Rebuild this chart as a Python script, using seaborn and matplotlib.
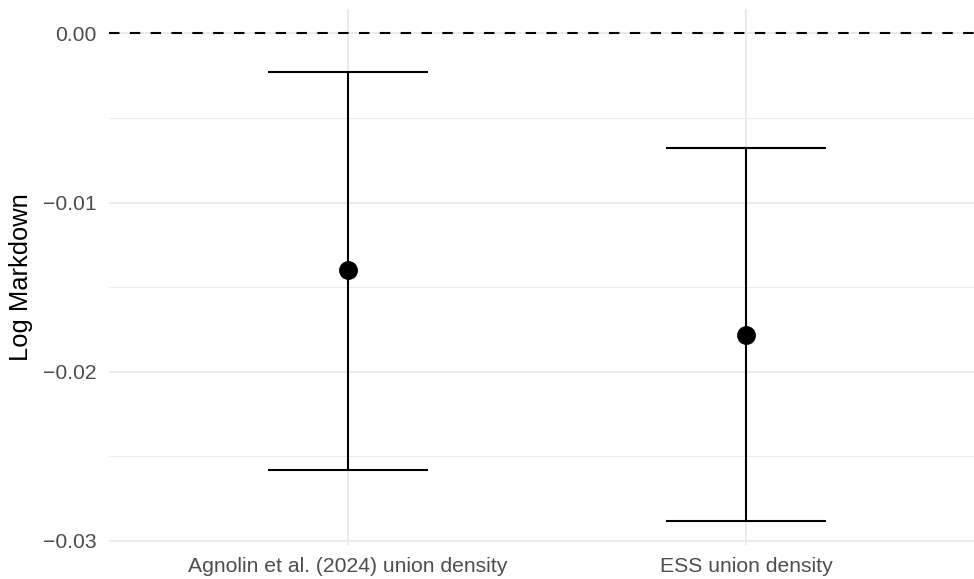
import numpy as np
import pandas as pd
import matplotlib
matplotlib.use("Agg")
import matplotlib.pyplot as plt
import seaborn as sns

# Estimates of log markdown with 95% confidence bounds, by union density source
categories = ["Agnolin et al. (2024) union density", "ESS union density"]
estimate = [-0.0140, -0.0178]
ci_low = [-0.0258, -0.0288]
ci_high = [-0.0023, -0.0068]
y_ticks = [0.00, -0.01, -0.02, -0.03]
y_minor = [-0.005, -0.015, -0.025]

df = pd.DataFrame({"measure": categories, "est": estimate,
                   "lo": ci_low, "hi": ci_high})
df["pos"] = np.arange(len(df))

sns.set_theme(style="white")
plt.rcParams["font.family"] = ["Liberation Sans", "DejaVu Sans"]

fig = plt.figure(figsize=(9.74, 5.79), dpi=100)
W, H = 974, 579
ax = fig.add_axes([109 / W, (H - 545) / H, (985 - 109) / W, (545 - 9) / H])

grid_col = "#EBEBEB"
for y in y_ticks:
    ax.axhline(y, color=grid_col, lw=1.4, zorder=0)
for y in y_minor:
    ax.axhline(y, color=grid_col, lw=0.8, zorder=0)
for x in df["pos"]:
    ax.axvline(x, color=grid_col, lw=1.4, zorder=0)

ax.axhline(0, color="black", lw=1.5, ls=(0, (5, 5)), zorder=1)

ax.errorbar(df["pos"], df["est"],
            yerr=[df["est"] - df["lo"], df["hi"] - df["est"]],
            fmt="none", ecolor="black", elinewidth=1.5,
            capsize=57.6, capthick=1.5, zorder=2)
sns.scatterplot(data=df, x="pos", y="est", color="black", s=185,
                edgecolor="black", linewidth=0, ax=ax, zorder=3)

ax.set_xlim(-0.6, 1.6)
data_lo, data_hi = min(ci_low), 0.0
pad = 0.05 * (data_hi - data_lo)
ax.set_ylim(data_lo - pad, data_hi + pad)

ax.set_xticks(df["pos"])
ax.set_xticklabels(categories)
ax.set_yticks(y_ticks)
ax.set_yticklabels([f"{v:.2f}".replace("-", "\u2212") for v in y_ticks])
ax.tick_params(axis="both", length=0, labelsize=15.2, labelcolor="#4D4D4D")
ax.tick_params(axis="y", pad=9)
ax.tick_params(axis="x", pad=9)
ax.set_xlabel("")
ax.set_ylabel("Log Markdown", fontsize=18.4, color="black", va="center")
ax.yaxis.set_label_coords((21 - 109) / 876, 0.5)
for s in ax.spines.values():
    s.set_visible(False)
ax.set_facecolor("white")

fig.savefig("out.png", dpi=100, facecolor="white")
